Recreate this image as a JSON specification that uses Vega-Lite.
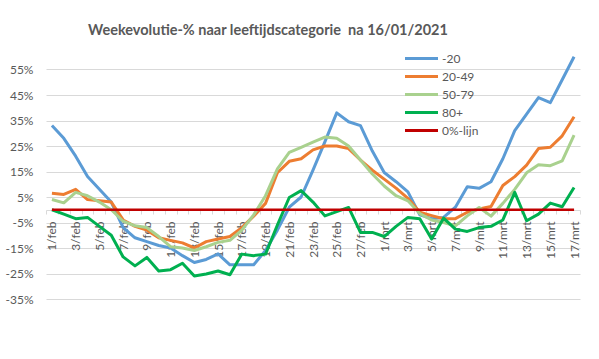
{
  "$schema": "https://vega.github.io/schema/vega-lite/v6.json",
  "width": 534,
  "height": 255,
  "padding": {"left": 5, "top": 22, "right": 18, "bottom": 5},
  "background": "white",
  "title": {
    "text": "Weekevolutie-% naar leeftijdscategorie\u00a0 na 16/01/2021",
    "font": "Lato",
    "fontSize": 14.5,
    "fontWeight": "bold",
    "color": "#595959",
    "anchor": "middle",
    "dx": -45,
    "offset": 6
  },
  "data": {
    "values": [
      {"dag": "1/feb", "-20": 33, "20-49": 6.5, "50-79": 4, "80+": 0, "0%-lijn": 0},
      {"dag": "2/feb", "-20": 28, "20-49": 6, "50-79": 2.7, "80+": -1.7, "0%-lijn": 0},
      {"dag": "3/feb", "-20": 21, "20-49": 8, "50-79": 6.8, "80+": -3.5, "0%-lijn": 0},
      {"dag": "4/feb", "-20": 13, "20-49": 4, "50-79": 5.5, "80+": -3, "0%-lijn": 0},
      {"dag": "5/feb", "-20": 8, "20-49": 3.5, "50-79": 3, "80+": -6.5, "0%-lijn": 0},
      {"dag": "6/feb", "-20": 3, "20-49": 3, "50-79": 0, "80+": -10, "0%-lijn": 0},
      {"dag": "7/feb", "-20": -7, "20-49": -4, "50-79": -4.5, "80+": -18.5, "0%-lijn": 0},
      {"dag": "8/feb", "-20": -11, "20-49": -6.5, "50-79": -6.3, "80+": -22, "0%-lijn": 0},
      {"dag": "9/feb", "-20": -12.5, "20-49": -8, "50-79": -7, "80+": -18.7, "0%-lijn": 0},
      {"dag": "10/feb", "-20": -14, "20-49": -11, "50-79": -10.5, "80+": -24, "0%-lijn": 0},
      {"dag": "11/feb", "-20": -15, "20-49": -12, "50-79": -14.5, "80+": -23.5, "0%-lijn": 0},
      {"dag": "12/feb", "-20": -18, "20-49": -13, "50-79": -15, "80+": -21, "0%-lijn": 0},
      {"dag": "13/feb", "-20": -20.7, "20-49": -15, "50-79": -16, "80+": -26, "0%-lijn": 0},
      {"dag": "14/feb", "-20": -19.5, "20-49": -12.5, "50-79": -14.5, "80+": -25.2, "0%-lijn": 0},
      {"dag": "15/feb", "-20": -17.3, "20-49": -11.5, "50-79": -12.8, "80+": -24, "0%-lijn": 0},
      {"dag": "16/feb", "-20": -21.6, "20-49": -10.5, "50-79": -12, "80+": -25.5, "0%-lijn": 0},
      {"dag": "17/feb", "-20": -21.6, "20-49": -7, "50-79": -8, "80+": -17.4, "0%-lijn": 0},
      {"dag": "18/feb", "-20": -21.6, "20-49": -2.5, "50-79": -2, "80+": -18, "0%-lijn": 0},
      {"dag": "19/feb", "-20": -16, "20-49": 2.5, "50-79": 5.5, "80+": -17.4, "0%-lijn": 0},
      {"dag": "20/feb", "-20": -8, "20-49": 14.5, "50-79": 16, "80+": -6, "0%-lijn": 0},
      {"dag": "21/feb", "-20": 1, "20-49": 19, "50-79": 22.5, "80+": 4.8, "0%-lijn": 0},
      {"dag": "22/feb", "-20": 5, "20-49": 20, "50-79": 24.5, "80+": 7.5, "0%-lijn": 0},
      {"dag": "23/feb", "-20": 15.5, "20-49": 23.5, "50-79": 26.5, "80+": 3, "0%-lijn": 0},
      {"dag": "24/feb", "-20": 26.6, "20-49": 25, "50-79": 28.5, "80+": -2.4, "0%-lijn": 0},
      {"dag": "25/feb", "-20": 38, "20-49": 25, "50-79": 28, "80+": -0.7, "0%-lijn": 0},
      {"dag": "26/feb", "-20": 34.5, "20-49": 24, "50-79": 25, "80+": 0.9, "0%-lijn": 0},
      {"dag": "27/feb", "-20": 33, "20-49": 19.5, "50-79": 19.5, "80+": -8.9, "0%-lijn": 0},
      {"dag": "28/feb", "-20": 23, "20-49": 15.5, "50-79": 14, "80+": -8.9, "0%-lijn": 0},
      {"dag": "1/mrt", "-20": 14.6, "20-49": 12, "50-79": 9.3, "80+": -10.5, "0%-lijn": 0},
      {"dag": "2/mrt", "-20": 11, "20-49": 8.5, "50-79": 5.5, "80+": -6.5, "0%-lijn": 0},
      {"dag": "3/mrt", "-20": 7, "20-49": 4.5, "50-79": 3.5, "80+": -3, "0%-lijn": 0},
      {"dag": "4/mrt", "-20": -2, "20-49": -1, "50-79": -1.5, "80+": -3.5, "0%-lijn": 0},
      {"dag": "5/mrt", "-20": -3.5, "20-49": -2.3, "50-79": -4, "80+": -11.5, "0%-lijn": 0},
      {"dag": "6/mrt", "-20": -3, "20-49": -3.5, "50-79": -5, "80+": -3.3, "0%-lijn": 0},
      {"dag": "7/mrt", "-20": 1, "20-49": -3.5, "50-79": -6.3, "80+": -7.6, "0%-lijn": 0},
      {"dag": "8/mrt", "-20": 9, "20-49": -1, "50-79": -2.4, "80+": -8.5, "0%-lijn": 0},
      {"dag": "9/mrt", "-20": 8.4, "20-49": 0.3, "50-79": 0.9, "80+": -7, "0%-lijn": 0},
      {"dag": "10/mrt", "-20": 11, "20-49": 1.3, "50-79": -2.5, "80+": -6.5, "0%-lijn": 0},
      {"dag": "11/mrt", "-20": 20, "20-49": 9.5, "50-79": 2.5, "80+": -4, "0%-lijn": 0},
      {"dag": "12/mrt", "-20": 31, "20-49": 13, "50-79": 8, "80+": 6.8, "0%-lijn": 0},
      {"dag": "13/mrt", "-20": 37.5, "20-49": 17.5, "50-79": 14.5, "80+": -4.3, "0%-lijn": 0},
      {"dag": "14/mrt", "-20": 44, "20-49": 24, "50-79": 17.6, "80+": -1.7, "0%-lijn": 0},
      {"dag": "15/mrt", "-20": 42, "20-49": 24.5, "50-79": 17.3, "80+": 2.6, "0%-lijn": 0},
      {"dag": "16/mrt", "-20": 51, "20-49": 29, "50-79": 19.2, "80+": 1.2, "0%-lijn": 0},
      {"dag": "17/mrt", "-20": 60, "20-49": 36.5, "50-79": 29.3, "80+": 8.7, "0%-lijn": 0}
    ]
  },
  "transform": [
    {"fold": ["-20", "20-49", "50-79", "80+", "0%-lijn"], "as": ["reeks", "waarde"]}
  ],
  "mark": {"type": "line", "strokeCap": "butt", "strokeJoin": "round"},
  "encoding": {
    "x": {
      "field": "dag",
      "type": "ordinal",
      "sort": null,
      "scale": {"type": "band", "paddingInner": 0, "paddingOuter": 0},
      "axis": {
        "title": null,
        "labelAngle": -90,
        "labelFont": "Lato",
        "labelFontSize": 12,
        "labelColor": "#595959",
        "labelExpr": "parseInt(datum.value) % 2 === 1 ? datum.value : ''",
        "labelOverlap": false,
        "labelPadding": 7,
        "tickBand": "extent",
        "tickColor": "#D9D9D9",
        "tickSize": 4,
        "domainColor": "#D9D9D9",
        "grid": false,
        "offset": -89
      }
    },
    "y": {
      "field": "waarde",
      "type": "quantitative",
      "scale": {"domain": [-35, 65], "nice": false, "zero": false},
      "axis": {
        "title": null,
        "values": [-35, -25, -15, -5, 5, 15, 25, 35, 45, 55],
        "labelExpr": "datum.value + '%'",
        "labelFont": "Lato",
        "labelFontSize": 12,
        "labelColor": "#595959",
        "labelPadding": 13,
        "ticks": false,
        "domain": false,
        "gridColor": "#D9D9D9",
        "gridWidth": 1
      }
    },
    "color": {
      "field": "reeks",
      "type": "nominal",
      "scale": {
        "domain": ["-20", "20-49", "50-79", "80+", "0%-lijn"],
        "range": ["#5B9BD5", "#ED7D31", "#A9D18E", "#00B050", "#C00000"]
      },
      "legend": {
        "title": null,
        "orient": "none",
        "legendX": 364,
        "legendY": 3,
        "symbolType": "M-1.65,0H1.65",
        "symbolStrokeWidth": 3,
        "symbolSize": 400,
        "labelFont": "Lato",
        "labelFontSize": 12,
        "labelColor": "#595959",
        "labelOffset": 9,
        "rowPadding": -0.5
      }
    },
    "strokeWidth": {"condition": {"test": "datum.reeks === '0%-lijn'", "value": 2.5}, "value": 3}
  },
  "config": {"view": {"stroke": null}}
}
